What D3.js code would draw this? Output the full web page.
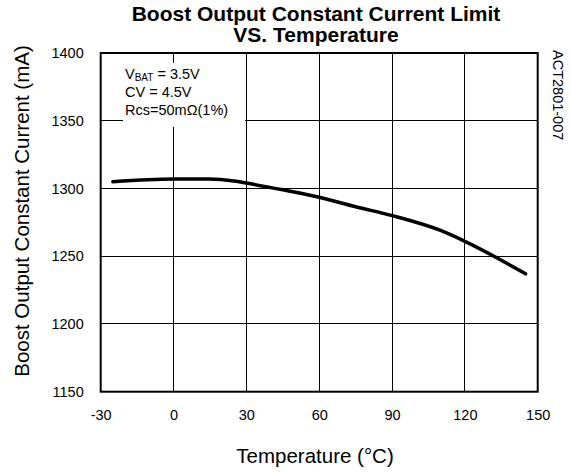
<!DOCTYPE html>
<html>
<head>
<meta charset="utf-8">
<script src="https://cdn.jsdelivr.net/npm/d3@7"></script>
<style>
  body { margin: 0; background: #fff; }
  svg { display: block; font-family: "Liberation Sans", Arial, sans-serif; }
</style>
</head>
<body>
<script>
// temperature (°C) and current limit (mA)
const temps = [-25, 0, 15, 25, 30, 45, 60, 75, 90, 110, 120, 145];
const currents = [1305, 1307, 1307, 1305.5, 1304, 1299, 1293.5, 1286.5, 1280, 1269, 1261, 1237];
const xTicks = [-30, 0, 30, 60, 90, 120, 150];
const yTicks = [1150, 1200, 1250, 1300, 1350, 1400];
const titleLines = ['Boost Output Constant Current Limit', 'VS. Temperature'];
const legendLines = ['CV = 4.5V', 'Rcs=50mΩ(1%)'];

const width = 570, height = 472;
const margin = { top: 53, right: 32.3, bottom: 80.3, left: 100.7 };
const innerW = width - margin.left - margin.right;
const innerH = height - margin.top - margin.bottom;

const svg = d3.select('body').append('svg')
  .attr('width', width)
  .attr('height', height);

const x = d3.scaleLinear().domain([-30, 150]).range([margin.left, margin.left + innerW]);
const y = d3.scaleLinear().domain([1150, 1400]).range([margin.top + innerH, margin.top]);

// grid
const grid = svg.append('g').attr('stroke', '#000').attr('stroke-width', 1).attr('shape-rendering', 'crispEdges');
grid.selectAll('.vgrid')
  .data(xTicks.slice(1, -1))
  .join('line')
    .attr('x1', d => x(d)).attr('x2', d => x(d))
    .attr('y1', y(1400)).attr('y2', y(1150));
grid.selectAll('.hgrid')
  .data(yTicks.slice(1, -1))
  .join('line')
    .attr('x1', x(-30)).attr('x2', x(150))
    .attr('y1', d => y(d)).attr('y2', d => y(d));

// legend box (white, covers grid)
svg.append('rect')
  .attr('x', 123).attr('y', 63)
  .attr('width', 122).attr('height', 64)
  .attr('fill', '#fff');

const legend = svg.append('g').attr('font-size', 14.5).attr('fill', '#000');
const vbat = legend.append('text').attr('x', 125).attr('y', 78.5);
vbat.append('tspan').text('V');
vbat.append('tspan').attr('font-size', 10).attr('dy', 2).text('BAT');
vbat.append('tspan').attr('dy', -2).text(' = 3.5V');
legend.selectAll('.line')
  .data(legendLines)
  .join('text')
    .attr('x', 125)
    .attr('y', (d, i) => 96.5 + i * 18)
    .text(d => d);

// frame
svg.append('rect')
  .attr('x', x(-30)).attr('y', y(1400))
  .attr('width', x(150) - x(-30)).attr('height', y(1150) - y(1400))
  .attr('fill', 'none')
  .attr('stroke', '#000')
  .attr('stroke-width', 2);

// curve
const line = d3.line()
  .x((d, i) => x(temps[i]))
  .y(d => y(d))
  .curve(d3.curveMonotoneX);

svg.append('path')
  .datum(currents)
  .attr('d', line)
  .attr('fill', 'none')
  .attr('stroke', '#000')
  .attr('stroke-width', 3.5)
  .attr('stroke-linecap', 'round');

// axes (labels only)
const xAxis = svg.append('g')
  .attr('transform', `translate(0,${y(1150)})`)
  .call(d3.axisBottom(x).tickValues(xTicks).tickFormat(d => String(d)).tickSize(0).tickPadding(0));
xAxis.select('.domain').remove();
xAxis.selectAll('text')
  .attr('dy', null)
  .attr('y', 28.5)
  .attr('font-size', 14.5)
  .attr('font-family', '"Liberation Sans", Arial, sans-serif')
  .attr('fill', '#000');

const yAxis = svg.append('g')
  .attr('transform', `translate(${x(-30)},0)`)
  .call(d3.axisLeft(y).tickValues(yTicks).tickFormat(d => String(d)).tickSize(0).tickPadding(0));
yAxis.select('.domain').remove();
yAxis.selectAll('text')
  .attr('x', -17)
  .attr('dy', '0.32em')
  .attr('font-size', 14.5)
  .attr('font-family', '"Liberation Sans", Arial, sans-serif')
  .attr('fill', '#000');

// title
svg.append('g')
  .attr('font-size', 21)
  .attr('font-weight', 'bold')
  .attr('text-anchor', 'middle')
  .selectAll('text')
  .data(titleLines)
  .join('text')
    .attr('x', 316)
    .attr('y', (d, i) => 20.7 + i * 21)
    .text(d => d);

// axis titles
svg.append('text')
  .attr('x', 315).attr('y', 463)
  .attr('text-anchor', 'middle')
  .attr('font-size', 20.5)
  .text('Temperature (°C)');

svg.append('text')
  .attr('transform', 'translate(28.5,211) rotate(-90)')
  .attr('text-anchor', 'middle')
  .attr('font-size', 20.5)
  .text('Boost Output Constant Current (mA)');

// part number
svg.append('text')
  .attr('transform', 'translate(553,50) rotate(90)')
  .attr('font-size', 14.5)
  .text('ACT2801-007');
</script>
</body>
</html>
